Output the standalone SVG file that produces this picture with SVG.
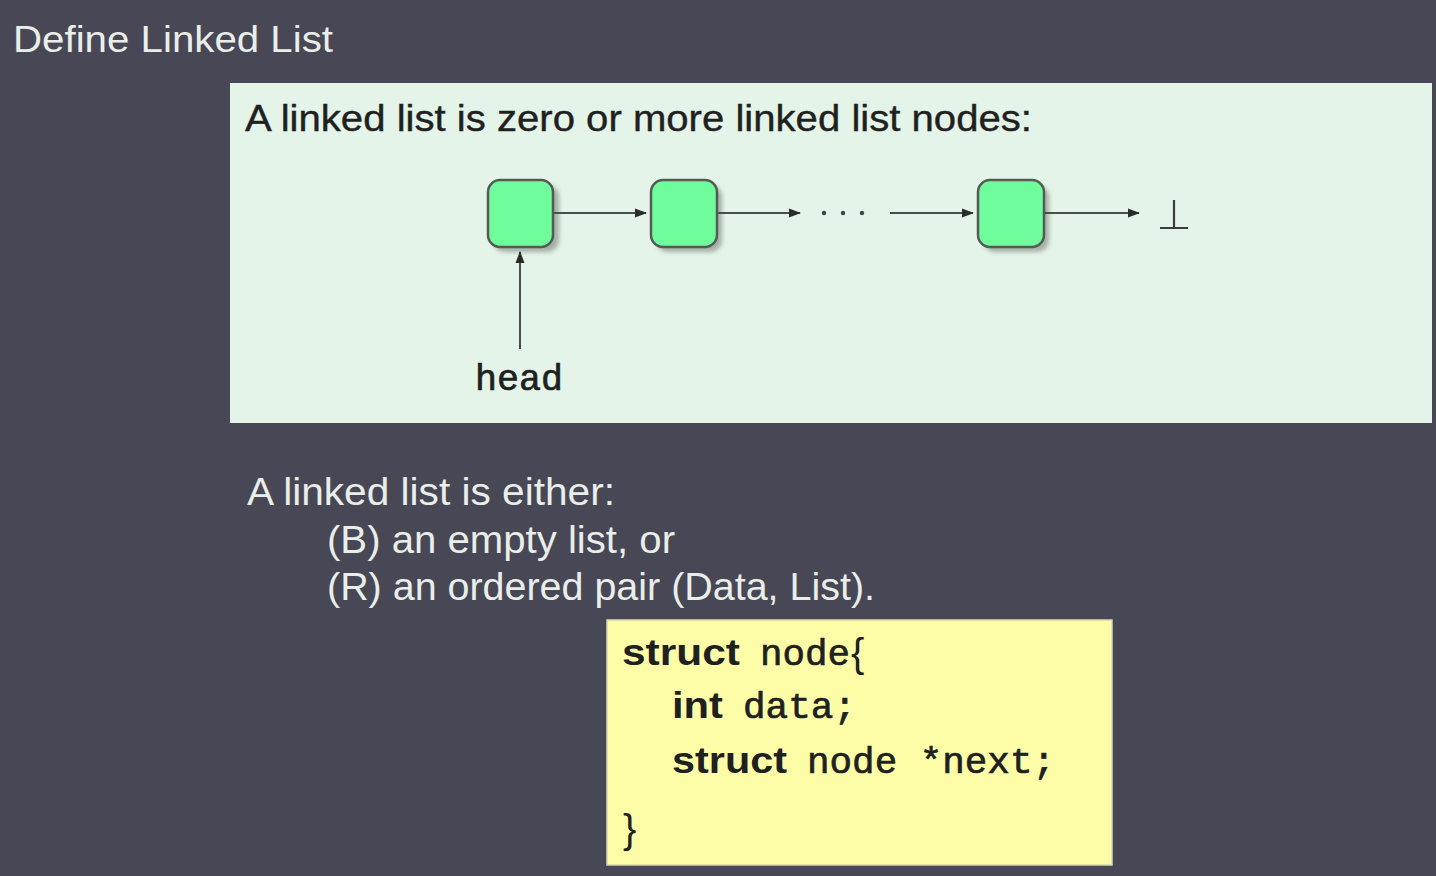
<svg xmlns="http://www.w3.org/2000/svg" width="1436" height="876" viewBox="0 0 1436 876">
<style>
.light{fill:#e9eee9;font-family:"Liberation Sans",Arial,sans-serif}
.dark{fill:#1f211f;font-family:"Liberation Sans",Arial,sans-serif}
.mono{fill:#1f211f;stroke:#1f211f;stroke-width:0.7;font-family:"Liberation Mono","Courier New",monospace}
.bold{fill:#1f211f;font-family:"Liberation Sans",Arial,sans-serif;font-weight:bold}
.node{fill:#6ffc9c;stroke:#555a55;stroke-width:2.5}
.shadow{fill:#8f9a91;opacity:0.75}
.edge{stroke:#4a4d4a;stroke-width:2;fill:none}
</style>
<defs>
<marker id="arr" markerWidth="12" markerHeight="12" refX="11" refY="6" orient="auto" markerUnits="userSpaceOnUse">
<path d="M0,1.5 L12,6 L0,10.5 Z" fill="#2a2c2a"/>
</marker>
<filter id="blur" x="-20%" y="-20%" width="140%" height="140%"><feGaussianBlur stdDeviation="2"/></filter>
</defs>
<rect x="0" y="0" width="1436" height="876" fill="#484756"/>
<text class="light" x="13" y="52" font-size="36" textLength="320" lengthAdjust="spacingAndGlyphs">Define Linked List</text>
<g id="panel">
<rect x="230" y="83" width="1202" height="340" fill="#e4f4e8"/>
<text class="dark" x="245" y="131" font-size="37" stroke="#1f211f" stroke-width="0.4" textLength="787" lengthAdjust="spacingAndGlyphs">A linked list is zero or more linked list nodes:</text>
</g>
<g id="node1">
<rect class="shadow" x="493" y="185" width="66" height="67" rx="12" filter="url(#blur)"/>
<rect class="node" x="488" y="180" width="65" height="67" rx="12"/>
</g>
<g id="node2">
<rect class="shadow" x="656" y="185" width="66" height="67" rx="12" filter="url(#blur)"/>
<rect class="node" x="651" y="180" width="66" height="67" rx="12"/>
</g>
<g id="node3">
<rect class="shadow" x="983" y="185" width="66" height="67" rx="12" filter="url(#blur)"/>
<rect class="node" x="978" y="180" width="66" height="67" rx="12"/>
</g>
<g id="ellipsis">
<circle cx="824" cy="213" r="2.2" fill="#444"/>
<circle cx="843" cy="213" r="2.2" fill="#444"/>
<circle cx="862" cy="213" r="2.2" fill="#444"/>
</g>
<g id="null">
<path d="M1174,200 V228 M1160,228 H1188" stroke="#3a3c3a" stroke-width="2.2" fill="none"/>
</g>
<g id="head">
<text class="mono" x="519" y="390" font-size="36" text-anchor="middle" textLength="88" lengthAdjust="spacingAndGlyphs">head</text>
</g>
<g id="connectors">
<line class="edge" x1="554" y1="213" x2="646" y2="213" marker-end="url(#arr)"/>
<line class="edge" x1="718" y1="213" x2="800" y2="213" marker-end="url(#arr)"/>
<line class="edge" x1="890" y1="213" x2="973" y2="213" marker-end="url(#arr)"/>
<line class="edge" x1="1045" y1="213" x2="1139" y2="213" marker-end="url(#arr)"/>
<line class="edge" x1="520" y1="349" x2="520" y2="252" marker-end="url(#arr)"/>
</g>
<g id="definition">
<text class="light" x="247" y="505" font-size="38" textLength="368" lengthAdjust="spacingAndGlyphs">A linked list is either:</text>
<text class="light" x="327" y="553" font-size="38" textLength="348" lengthAdjust="spacingAndGlyphs">(B) an empty list, or</text>
<text class="light" x="327" y="600" font-size="38" textLength="548" lengthAdjust="spacingAndGlyphs">(R) an ordered pair (Data, List).</text>
</g>
<g id="code">
<rect x="607" y="620" width="505" height="245" fill="#fdfda8" stroke="#d8d8b0" stroke-width="1.5"/>
<text class="bold" x="622" y="665" font-size="37" textLength="118" lengthAdjust="spacingAndGlyphs">struct</text>
<text class="mono" x="760" y="665" font-size="37.5" textLength="90" lengthAdjust="spacingAndGlyphs">node</text>
<text class="dark" x="851" y="667" font-size="40" font-family="Liberation Serif">{</text>
<text class="bold" x="672" y="718" font-size="37" textLength="51" lengthAdjust="spacingAndGlyphs">int</text>
<text class="mono" x="743" y="718" font-size="37.5" textLength="113" lengthAdjust="spacingAndGlyphs">data;</text>
<text class="bold" x="672" y="773" font-size="37" textLength="115" lengthAdjust="spacingAndGlyphs">struct</text>
<text class="mono" x="807" y="773" font-size="37.5" textLength="248" lengthAdjust="spacingAndGlyphs">node *next;</text>
<text class="dark" x="623" y="843" font-size="40" font-family="Liberation Serif">}</text>
</g>
</svg>
